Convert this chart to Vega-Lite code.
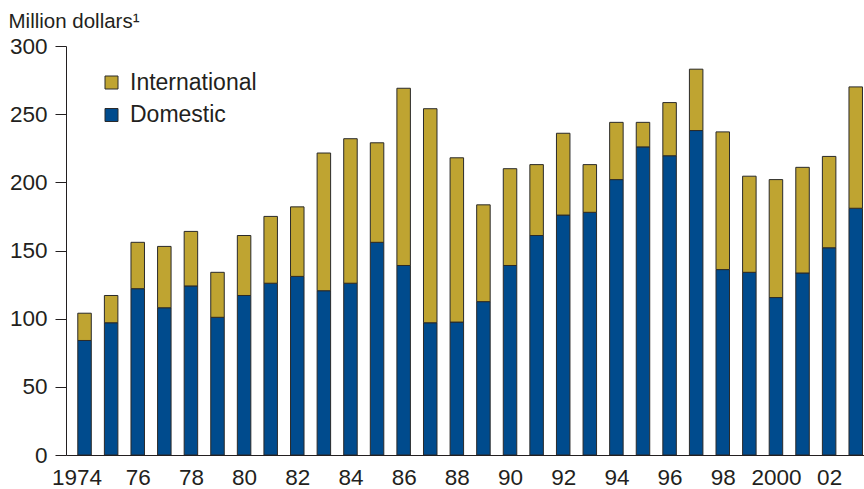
{
  "$schema": "https://vega.github.io/schema/vega-lite/v6.json",
  "width": 798,
  "height": 409,
  "autosize": {"type": "none"},
  "padding": {"left": 66, "top": 46, "right": 0, "bottom": 34},
  "background": "white",
  "config": {
    "view": {"stroke": null},
    "font": "Liberation Sans",
    "axis": {"labelColor": "#231f20", "titleColor": "#231f20", "domainColor": "#231f20", "tickColor": "#231f20", "grid": false}
  },
  "data": {
    "values": [
      {"year": 1974, "type": "Domestic", "value": 84}, {"year": 1974, "type": "International", "value": 20},
      {"year": 1975, "type": "Domestic", "value": 97}, {"year": 1975, "type": "International", "value": 20},
      {"year": 1976, "type": "Domestic", "value": 122}, {"year": 1976, "type": "International", "value": 34},
      {"year": 1977, "type": "Domestic", "value": 108}, {"year": 1977, "type": "International", "value": 45},
      {"year": 1978, "type": "Domestic", "value": 124}, {"year": 1978, "type": "International", "value": 40},
      {"year": 1979, "type": "Domestic", "value": 101}, {"year": 1979, "type": "International", "value": 33},
      {"year": 1980, "type": "Domestic", "value": 117}, {"year": 1980, "type": "International", "value": 44},
      {"year": 1981, "type": "Domestic", "value": 126}, {"year": 1981, "type": "International", "value": 49},
      {"year": 1982, "type": "Domestic", "value": 131}, {"year": 1982, "type": "International", "value": 51},
      {"year": 1983, "type": "Domestic", "value": 120.5}, {"year": 1983, "type": "International", "value": 101},
      {"year": 1984, "type": "Domestic", "value": 126}, {"year": 1984, "type": "International", "value": 106},
      {"year": 1985, "type": "Domestic", "value": 156}, {"year": 1985, "type": "International", "value": 73},
      {"year": 1986, "type": "Domestic", "value": 139}, {"year": 1986, "type": "International", "value": 130},
      {"year": 1987, "type": "Domestic", "value": 97}, {"year": 1987, "type": "International", "value": 157},
      {"year": 1988, "type": "Domestic", "value": 97.5}, {"year": 1988, "type": "International", "value": 120.5},
      {"year": 1989, "type": "Domestic", "value": 112.5}, {"year": 1989, "type": "International", "value": 71},
      {"year": 1990, "type": "Domestic", "value": 139}, {"year": 1990, "type": "International", "value": 71},
      {"year": 1991, "type": "Domestic", "value": 161}, {"year": 1991, "type": "International", "value": 52},
      {"year": 1992, "type": "Domestic", "value": 176}, {"year": 1992, "type": "International", "value": 60},
      {"year": 1993, "type": "Domestic", "value": 178}, {"year": 1993, "type": "International", "value": 35},
      {"year": 1994, "type": "Domestic", "value": 202}, {"year": 1994, "type": "International", "value": 42},
      {"year": 1995, "type": "Domestic", "value": 226}, {"year": 1995, "type": "International", "value": 18},
      {"year": 1996, "type": "Domestic", "value": 219.5}, {"year": 1996, "type": "International", "value": 39},
      {"year": 1997, "type": "Domestic", "value": 238}, {"year": 1997, "type": "International", "value": 45},
      {"year": 1998, "type": "Domestic", "value": 136}, {"year": 1998, "type": "International", "value": 101},
      {"year": 1999, "type": "Domestic", "value": 134}, {"year": 1999, "type": "International", "value": 70.5},
      {"year": 2000, "type": "Domestic", "value": 115.5}, {"year": 2000, "type": "International", "value": 86.5},
      {"year": 2001, "type": "Domestic", "value": 133.5}, {"year": 2001, "type": "International", "value": 77.5},
      {"year": 2002, "type": "Domestic", "value": 152}, {"year": 2002, "type": "International", "value": 67},
      {"year": 2003, "type": "Domestic", "value": 181}, {"year": 2003, "type": "International", "value": 89}
    ]
  },
  "mark": {"type": "bar", "width": 13.5, "clip": true, "stroke": "#2a2a2a", "strokeWidth": 1},
  "encoding": {
    "x": {
      "field": "year",
      "type": "quantitative",
      "scale": {"domain": [1973.491, 2003.123], "nice": false, "zero": false},
      "axis": {
        "title": null,
        "values": [1974, 1976, 1978, 1980, 1982, 1984, 1986, 1988, 1990, 1992, 1994, 1996, 1998, 2000, 2002],
        "format": "d",
        "labelExpr": "datum.value == 1974 || datum.value == 2000 ? datum.label : substring(datum.label, 2)",
        "labelOffset": {"condition": {"test": "datum.value == 1974", "value": -8}, "value": 0},
        "ticks": false,
        "tickSize": 0,
        "labelPadding": 11,
        "labelFontSize": 22.5,
        "labelFlush": false,
        "labelOverlap": false,
        "labelBound": false,
        "domainWidth": 1
      }
    },
    "y": {
      "field": "value",
      "type": "quantitative",
      "stack": "zero",
      "scale": {"domain": [0, 300], "nice": false},
      "axis": {
        "values": [0, 50, 100, 150, 200, 250, 300],
        "title": "Million dollars¹",
        "titleAngle": 0,
        "titleAlign": "left",
        "titleBaseline": "alphabetic",
        "titleX": -58,
        "titleY": -19,
        "titleFontSize": 20.5,
        "titleFontWeight": "normal",
        "tickSize": 11,
        "labelPadding": 8,
        "labelFontSize": 22.5,
        "domainWidth": 1
      }
    },
    "color": {
      "field": "type",
      "type": "nominal",
      "scale": {"domain": ["International", "Domestic"], "range": ["#BFA431", "#004B8D"]},
      "legend": {
        "title": null,
        "orient": "none",
        "legendX": 34,
        "legendY": 25,
        "symbolType": "square",
        "symbolSize": 169,
        "symbolStrokeColor": "#2a2a2a",
        "symbolStrokeWidth": 1,
        "symbolOpacity": 1,
        "labelFontSize": 23,
        "labelColor": "#231f20",
        "labelOffset": 7,
        "rowPadding": 8.5,
        "padding": 0
      }
    },
    "order": {"field": "type", "sort": "ascending"}
  }
}
